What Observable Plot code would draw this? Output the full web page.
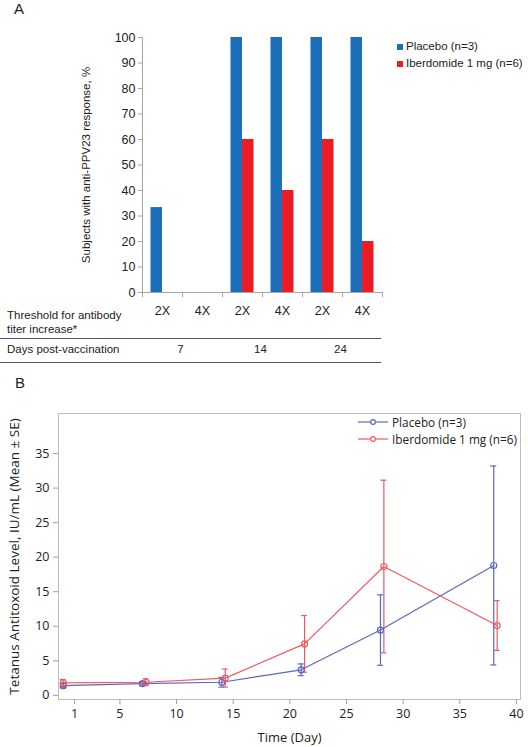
<!DOCTYPE html>
<html>
<head>
<meta charset="utf-8">
<script src="https://cdn.jsdelivr.net/npm/d3@7"></script>
<script src="https://cdn.jsdelivr.net/npm/@observablehq/plot@0.6"></script>
<style>
  html, body { margin: 0; padding: 0; background: #fff; }
  #wrap { position: relative; width: 528px; height: 747px; overflow: hidden; }
  .abs { position: absolute; white-space: nowrap; line-height: 1.15; }
  .fa { font-family: "Liberation Sans", Arial, sans-serif; color: #222; }
  .fb { font-family: "Open Sans", sans-serif; color: #222; }
  svg { display: block; }
</style>
</head>
<body>
<div id="wrap">
  <div id="pa" class="abs" style="left:0;top:0"></div>
  <div id="pb" class="abs" style="left:0;top:370px"></div>
</div>
<script>
// ---------- Panel A data ----------
const groups = ["d7-2X", "d7-4X", "d14-2X", "d14-4X", "d24-2X", "d24-4X"];
const thresholds = ["2X", "4X", "2X", "4X", "2X", "4X"];
const dayLabels = ["7", "14", "24"];
const placeboPct = [33.3, 0, 100, 100, 100, 100];
const iberdomidePct = [0, 0, 60, 40, 60, 20];
const seriesA = ["Placebo (n=3)", "Iberdomide 1 mg (n=6)"];
const colorsA = ["#1c6eb9", "#ec1c24"];

// ---------- Panel B data ----------
const placeboDay = [0, 7, 14, 21, 28, 38];
const placeboMean = [1.4, 1.7, 1.9, 3.7, 9.45, 18.8];
const placeboSE = [0.3, 0.3, 0.7, 0.85, 5.1, 14.4];
const iberDay = [0, 7.3, 14.3, 21.3, 28.3, 38.3];
const iberMean = [1.8, 1.9, 2.5, 7.45, 18.65, 10.1];
const iberSE = [0.5, 0.5, 1.3, 4.1, 12.5, 3.6];
const seriesB = ["Placebo (n=3)", "Iberdomide 1 mg (n=6)"];
const colorsB = ["#5a67c2", "#f05a5e"];
const xTicksB = [1, 5, 10, 15, 20, 25, 30, 35, 40];
const yTicksB = [0, 5, 10, 15, 20, 25, 30, 35];

const wrap = document.getElementById("wrap");
function addText(txt, cls, left, top, size, extra) {
  const d = document.createElement("div");
  d.className = "abs " + cls;
  d.style.left = left + "px";
  d.style.top = top + "px";
  d.style.fontSize = size + "px";
  if (extra) Object.assign(d.style, extra);
  d.textContent = txt;
  wrap.appendChild(d);
  return d;
}

// ---------- Panel A ----------
const rowsA = groups.map((g, i) => ({g, placebo: placeboPct[i], iber: iberdomidePct[i]}));
const tickLabel = new Map(groups.map((g, i) => [g, thresholds[i]]));
const dayLabel = new Map([[groups[0], dayLabels[0]], [groups[2], dayLabels[1]], [groups[4], dayLabels[2]]]);

const plotA = Plot.plot({
  width: 528,
  height: 370,
  marginLeft: 142,
  marginRight: 146,
  marginTop: 37,
  marginBottom: 78,
  style: {fontFamily: "'Liberation Sans', Arial, sans-serif", fontSize: "12px", color: "#222", background: "white"},
  x: {type: "band", domain: groups, padding: 0},
  y: {domain: [0, 100]},
  marks: [
    Plot.barY(rowsA, {x: "g", y: "placebo", fill: colorsA[0], insetLeft: 8.5, insetRight: 20}),
    Plot.barY(rowsA, {x: "g", y: "iber", fill: colorsA[1], insetLeft: 20, insetRight: 8.5}),
    Plot.frame({anchor: "left", stroke: "#a6a6a6"}),
    Plot.frame({anchor: "bottom", stroke: "#a6a6a6"}),
    Plot.axisY({ticks: d3.range(0, 101, 10), tickSize: 4, tickPadding: 3, stroke: "#a6a6a6",
      fontSize: 12.5, label: null}),
    Plot.axisY({ticks: [], tickSize: 0, fontSize: 11.5,
      label: "Subjects with anti-PPV23 response, %", labelAnchor: "center", labelArrow: "none", labelOffset: 61}),
    Plot.axisX({tickSize: 5, tickFormat: () => "", dx: -20, stroke: "#a6a6a6", label: null}),
    Plot.axisX({tickSize: 5, tickFormat: () => "", dx: 20, stroke: "#a6a6a6", label: null}),
    Plot.axisX({tickSize: 0, tickPadding: 14, tickFormat: d => tickLabel.get(d), fontSize: 12.5, label: null}),
    Plot.axisX({ticks: [groups[0], groups[2], groups[4]], tickSize: 0, tickPadding: 52, dx: 18,
      tickFormat: d => dayLabel.get(d), fontSize: 11.5, label: null})
  ]
});
document.getElementById("pa").appendChild(plotA);

// Panel A labels / table
addText("A", "fa", 14, 0, 15);
addText("Threshold for antibody", "fa", 7, 309, 11.5);
addText("titer increase*", "fa", 7, 323, 11.5);
addText("Days post-vaccination", "fa", 7, 343, 11.5);
const line1 = document.createElement("div");
line1.className = "abs"; Object.assign(line1.style, {left: "0px", top: "338px", width: "381px", borderTop: "1.5px solid #555"});
wrap.appendChild(line1);
const line2 = document.createElement("div");
line2.className = "abs"; Object.assign(line2.style, {left: "0px", top: "362px", width: "381px", borderTop: "1.5px solid #555"});
wrap.appendChild(line2);
// Legend A
seriesA.forEach((s, i) => {
  const y = 40 + i * 17;
  const sw = document.createElement("div");
  sw.className = "abs";
  Object.assign(sw.style, {left: "397px", top: (y + 4) + "px", width: "6px", height: "6px", background: colorsA[i]});
  wrap.appendChild(sw);
  addText(s, "fa", 406, y, 11.5);
});

// ---------- Panel B ----------
const rowsB = [];
placeboDay.forEach((d, i) => rowsB.push({s: seriesB[0], day: d, mean: placeboMean[i], se: placeboSE[i]}));
iberDay.forEach((d, i) => rowsB.push({s: seriesB[1], day: d, mean: iberMean[i], se: iberSE[i]}));

const plotB = Plot.plot({
  width: 528,
  height: 377,
  marginLeft: 58,
  marginRight: 8,
  marginTop: 43,
  marginBottom: 48,
  style: {fontFamily: "'Open Sans', sans-serif", fontSize: "12.5px", color: "#222", background: "white"},
  x: {domain: [-0.42, 40.36]},
  y: {domain: [-0.6, 40.8]},
  color: {domain: seriesB, range: colorsB},
  marks: [
    Plot.frame({stroke: "#bdbdbd"}),
    Plot.axisX({ticks: xTicksB, tickSize: 5, tickPadding: 5, stroke: "#9e9e9e", fontSize: 12.5, label: null}),
    Plot.axisX({ticks: [], tickSize: 0, fontSize: 13,
      label: "Time (Day)", labelAnchor: "center", labelArrow: "none", labelOffset: 42}),
    Plot.axisY({ticks: yTicksB, tickSize: 5, tickPadding: 4, stroke: "#9e9e9e", fontSize: 12.5, label: null}),
    Plot.axisY({ticks: [], tickSize: 0, fontSize: 13.5,
      label: "Tetanus Antitoxoid Level, IU/mL (Mean ± SE)", labelAnchor: "center", labelArrow: "none", labelOffset: 49}),
    Plot.ruleX(rowsB, {x: "day", y1: d => d.mean - d.se, y2: d => d.mean + d.se, stroke: "s", strokeWidth: 1.2}),
    Plot.ruleY(rowsB, {y: d => d.mean + d.se, x1: "day", x2: "day", insetLeft: -3, insetRight: -3, stroke: "s", strokeWidth: 1.2}),
    Plot.ruleY(rowsB, {y: d => d.mean - d.se, x1: "day", x2: "day", insetLeft: -3, insetRight: -3, stroke: "s", strokeWidth: 1.2}),
    Plot.line(rowsB, {x: "day", y: "mean", z: "s", stroke: "s", strokeWidth: 1.2}),
    Plot.dot(rowsB, {x: "day", y: "mean", stroke: "s", fill: "none", r: 3, strokeWidth: 1.2})
  ]
});
document.getElementById("pb").appendChild(plotB);

addText("B", "fa", 15, 374, 15);
// Legend B
seriesB.forEach((s, i) => {
  const y = 422 + i * 16.5;
  const svg = d3.create("svg").attr("width", 32).attr("height", 10)
    .style("position", "absolute").style("left", "358px").style("top", (y - 5) + "px");
  svg.append("line").attr("x1", 0).attr("x2", 30).attr("y1", 5).attr("y2", 5).attr("stroke", colorsB[i]).attr("stroke-width", 1.2);
  svg.append("circle").attr("cx", 15).attr("cy", 5).attr("r", 2.3).attr("fill", "white").attr("stroke", colorsB[i]).attr("stroke-width", 1.2);
  wrap.appendChild(svg.node());
  addText(s, "fb", 392, y - 7, 11.8, {lineHeight: "14px"});
});
</script>
</body>
</html>
